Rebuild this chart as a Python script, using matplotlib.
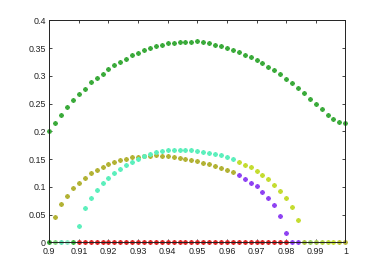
import numpy as np
import matplotlib
matplotlib.use("Agg")
import matplotlib.pyplot as plt

plt.rcParams['font.family'] = ['Liberation Sans', 'DejaVu Sans']

STEP = 0.002

# top curve, x = 0.900 ... 1.000
x_top = np.round(np.arange(0.900, 1.0001, STEP), 3)
top = [0.200, 0.2155, 0.230, 0.243, 0.256, 0.267, 0.277, 0.288, 0.2955, 0.304,
       0.312, 0.319, 0.325, 0.331, 0.337, 0.3416, 0.346, 0.350, 0.3537, 0.356,
       0.3586, 0.3597, 0.361, 0.3615, 0.3618, 0.362, 0.3604, 0.3586, 0.356, 0.3531,
       0.350, 0.3465, 0.3423, 0.338, 0.3333, 0.328, 0.3225, 0.3164, 0.310, 0.3027,
       0.2948, 0.287, 0.278, 0.269, 0.2588, 0.2498, 0.240, 0.230, 0.2227, 0.2168,
       0.215]

# olive branch, x = 0.902 ... 0.962
x_olive = np.round(np.arange(0.902, 0.9621, STEP), 3)
olive = [0.046, 0.069, 0.084, 0.097, 0.107, 0.116, 0.124, 0.130, 0.136, 0.141,
         0.145, 0.148, 0.151, 0.153, 0.154, 0.1555, 0.156, 0.157, 0.156, 0.1555,
         0.154, 0.1525, 0.150, 0.148, 0.146, 0.143, 0.1405, 0.138, 0.1345, 0.131,
         0.127]

# cyan branch, x = 0.910 ... 0.962
x_cyan = np.round(np.arange(0.910, 0.9621, STEP), 3)
cyan = [0.030, 0.061, 0.080, 0.094, 0.106, 0.116, 0.125, 0.132, 0.139, 0.144,
        0.150, 0.155, 0.159, 0.162, 0.164, 0.166, 0.167, 0.167, 0.167, 0.166,
        0.165, 0.163, 0.161, 0.159, 0.157, 0.154, 0.151]

# yellow-green branch, x = 0.964 ... 0.984
x_yellow = np.round(np.arange(0.964, 0.9841, STEP), 3)
yellow = [0.144, 0.140, 0.135, 0.129, 0.121, 0.1135, 0.104, 0.093, 0.080, 0.064,
          0.040]

# purple branch, x = 0.964 ... 0.984
x_purple = np.round(np.arange(0.964, 0.9841, STEP), 3)
purple = [0.121, 0.114, 0.1074, 0.101, 0.091, 0.080, 0.067, 0.048, 0.017, 0.0,
          0.0]

# red branch (zero), x = 0.910 ... 0.980
x_red = np.round(np.arange(0.910, 0.9801, STEP), 3)
red = [0.0] * len(x_red)

# remaining zero points at both ends
x_zero_left = [0.900, 0.902, 0.904, 0.906, 0.908]
zero_left_colors = ['#2e9e2e', '#7fd27f', '#5fdcae', '#8fe8c4', '#3cb03c']
x_zero_right = [0.986, 0.988, 0.990, 0.992, 0.994, 0.996, 0.998, 1.000]
zero_right_colors = ['#a6c040', '#9ccc60', '#a8c84a', '#b4d444', '#bcd83c',
                     '#c8e034', '#bcc838', '#b4b43c']

MK = (8, 2, 0)
ms = 3.4
mew = 0.8

fig = plt.figure(figsize=(3.82, 2.73), dpi=100)
ax = fig.add_axes([0.129, 0.1125, 0.775, 0.813])

def dots(x, y, c):
    ax.plot(x, y, linestyle='none', marker=MK, markersize=ms,
            markeredgewidth=mew, color=c, clip_on=False)

dots(x_top, top, '#3aaa3a')
dots(x_olive, olive, '#b2b234')
dots(x_cyan, cyan, '#5cefbc')
dots(x_yellow, yellow, '#c4dc30')
dots(x_purple, purple, '#8e42f2')
for xv, c in zip(x_zero_left, zero_left_colors):
    dots([xv], [0.0], c)
for xv, c in zip(x_zero_right, zero_right_colors):
    dots([xv], [0.0], c)
dots(x_red, red, '#dc2424')

ax.set_xlim(0.9, 1.0)
ax.set_ylim(0, 0.4)
xt = np.round(np.arange(0.9, 1.0001, 0.01), 2)
yt = np.round(np.arange(0, 0.4001, 0.05), 2)
ax.set_xticks(xt)
ax.set_xticklabels([('%g' % v) for v in xt])
ax.set_yticks(yt)
ax.set_yticklabels([('%g' % v) for v in yt])
ax.tick_params(direction='in', length=2.2, width=0.6, labelsize=6.4,
               top=True, right=True, colors='#222222')
ax.tick_params(axis='x', pad=3.6)
ax.tick_params(axis='y', pad=2.6)
for s in ax.spines.values():
    s.set_linewidth(0.7)
    s.set_color('#222222')

fig.savefig('out.png', dpi=100)
